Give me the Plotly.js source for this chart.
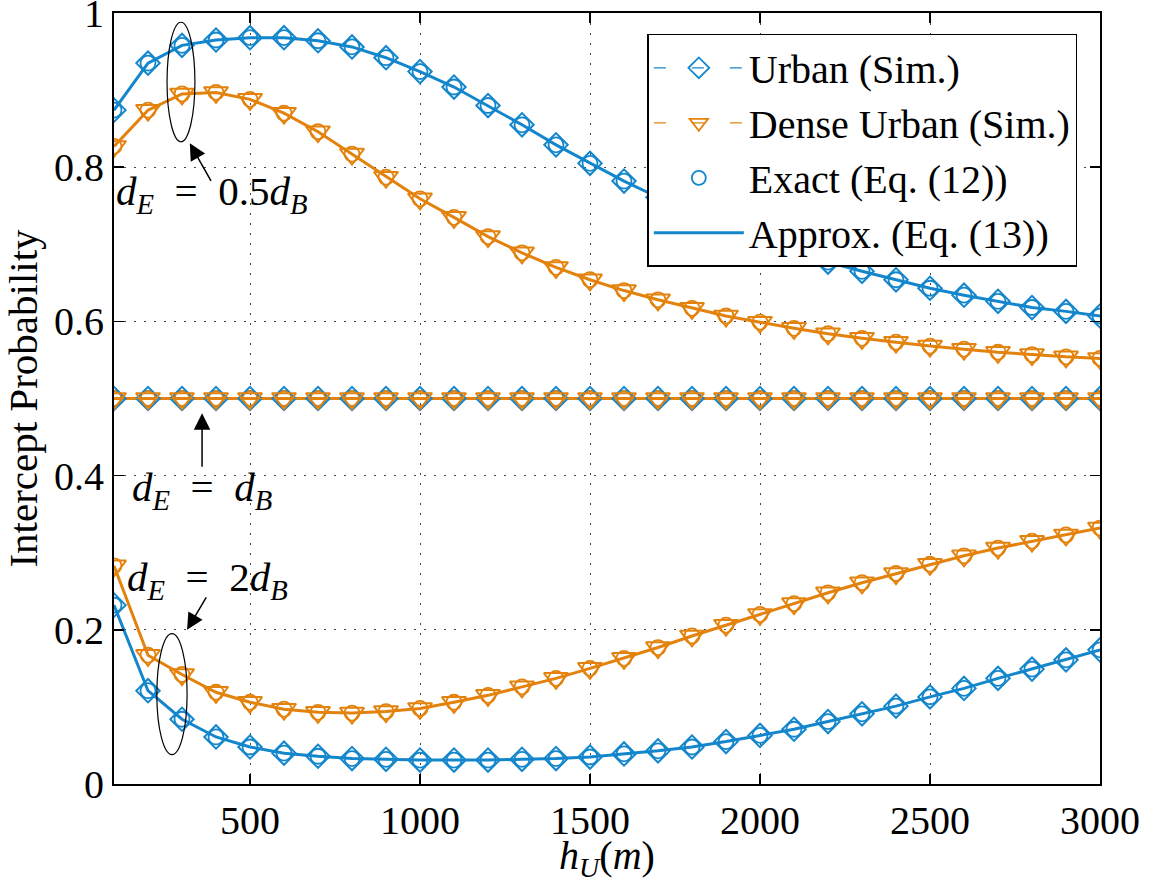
<!DOCTYPE html>
<html>
<head>
<meta charset="utf-8">
<script src="https://cdn.plot.ly/plotly-3.0.1.min.js"></script>
<style>html,body{margin:0;padding:0;background:#fff;}#chart{width:1157px;height:883px;}</style>
</head>
<body>
<div id="chart"></div>
<script>
// ---- data ----
const heights = [100,200,300,400,500,600,700,800,900,1000,1100,1200,1300,1400,1500,1600,1700,1800,1900,2000,2100,2200,2300,2400,2500,2600,2700,2800,2900,3000];

// d_E = 0.5 d_B
const urbanHalf = [0.874,0.935,0.958,0.965,0.968,0.968,0.964,0.956,0.942,0.924,0.904,0.880,0.855,0.829,0.805,0.782,0.761,0.741,0.723,0.706,0.692,0.677,0.665,0.654,0.643,0.634,0.626,0.618,0.613,0.607];
const denseHalf = [0.827,0.874,0.895,0.897,0.888,0.870,0.846,0.817,0.787,0.759,0.735,0.710,0.689,0.670,0.654,0.640,0.628,0.617,0.607,0.599,0.591,0.584,0.578,0.573,0.568,0.564,0.560,0.557,0.554,0.552];

// d_E = d_B
const urbanEqual = [0.5,0.5,0.5,0.5,0.5,0.5,0.5,0.5,0.5,0.5,0.5,0.5,0.5,0.5,0.5,0.5,0.5,0.5,0.5,0.5,0.5,0.5,0.5,0.5,0.5,0.5,0.5,0.5,0.5,0.5];
const denseEqual = [0.5,0.5,0.5,0.5,0.5,0.5,0.5,0.5,0.5,0.5,0.5,0.5,0.5,0.5,0.5,0.5,0.5,0.5,0.5,0.5,0.5,0.5,0.5,0.5,0.5,0.5,0.5,0.5,0.5,0.5];

// d_E = 2 d_B
const urbanDouble = [0.232,0.121,0.084,0.061,0.048,0.040,0.036,0.033,0.032,0.031,0.031,0.031,0.032,0.033,0.035,0.039,0.043,0.048,0.055,0.063,0.071,0.081,0.091,0.101,0.113,0.124,0.137,0.149,0.161,0.174];
const denseDouble = [0.283,0.167,0.142,0.119,0.106,0.097,0.093,0.092,0.094,0.098,0.106,0.115,0.126,0.137,0.150,0.163,0.177,0.192,0.206,0.220,0.234,0.248,0.261,0.273,0.285,0.296,0.306,0.315,0.323,0.332];

const xTicks = [500,1000,1500,2000,2500,3000];
const yTicks = [0,0.2,0.4,0.6,0.8,1];
const yTickText = ['0','0.2','0.4','0.6','0.8','1'];

const legendNames = ['Urban (Sim.)','Dense Urban (Sim.)','Exact (Eq. (12))','Approx. (Eq. (13))'];

// ---- styles ----
const BLUE = '#1486cc';
const ORANGE = '#e3820c';
const FONT = 'Liberation Serif, Times New Roman, serif';

const groups = [
  {y: urbanHalf,   c: BLUE,   sym: 'diamond-open',       sz: 18, sim: 0},
  {y: denseHalf,   c: ORANGE, sym: 'triangle-down-open', sz: 21, sim: 1},
  {y: urbanEqual,  c: BLUE,   sym: 'diamond-open',       sz: 18, sim: 0},
  {y: denseEqual,  c: ORANGE, sym: 'triangle-down-open', sz: 21, sim: 1},
  {y: urbanDouble, c: BLUE,   sym: 'diamond-open',       sz: 18, sim: 0},
  {y: denseDouble, c: ORANGE, sym: 'triangle-down-open', sz: 21, sim: 1}
];

const traces = [];
// approx lines
groups.forEach((g) => {
  traces.push({
    x: heights, y: g.y, type: 'scatter', mode: 'lines',
    line: {color: g.c, width: 3},
    name: legendNames[3], showlegend: false, hoverinfo: 'skip'
  });
});
// exact circles
groups.forEach((g) => {
  traces.push({
    x: heights, y: g.y, type: 'scatter', mode: 'markers',
    marker: {symbol: 'circle-open', size: 15, color: g.c, line: {width: 1.8, color: g.c}},
    name: legendNames[2], showlegend: false, hoverinfo: 'skip'
  });
});
// simulation markers with dashed line
groups.forEach((g) => {
  traces.push({
    x: heights, y: g.y, type: 'scatter', mode: 'lines+markers',
    line: {color: g.c, width: 1.2, dash: '8px,10px'},
    marker: {symbol: g.sym, size: g.sz, color: g.c, line: {width: 2, color: g.c}},
    name: legendNames[g.sim], showlegend: false, hoverinfo: 'skip'
  });
});
// legend-only traces (in legend order)
traces.push({x:[null], y:[null], type:'scatter', mode:'lines+markers', name: legendNames[0],
  line:{color:BLUE, width:1.2, dash:'12px,26px'}, marker:{symbol:'diamond-open', size:16, color:BLUE, line:{width:1.8,color:BLUE}}});
traces.push({x:[null], y:[null], type:'scatter', mode:'lines+markers', name: legendNames[1],
  line:{color:ORANGE, width:1.2, dash:'12px,26px'}, marker:{symbol:'triangle-down-open', size:16, color:ORANGE, line:{width:1.8,color:ORANGE}}});
traces.push({x:[null], y:[null], type:'scatter', mode:'markers', name: legendNames[2],
  marker:{symbol:'circle-open', size:14, color:BLUE, line:{width:1.8,color:BLUE}}});
traces.push({x:[null], y:[null], type:'scatter', mode:'lines', name: legendNames[3],
  line:{color:BLUE, width:3}});

const dE = (mid) => '<i>d</i><sub><i>E</i></sub>&nbsp; = &nbsp;' + mid + '<i>d</i><sub><i>B</i></sub>';

const layout = {
  width: 1157, height: 883,
  margin: {l: 114, r: 57, t: 13, b: 99, pad: 0},
  paper_bgcolor: '#fff', plot_bgcolor: '#fff',
  font: {family: FONT, size: 40, color: '#000'},
  showlegend: true,
  legend: {
    x: 0.977, y: 0.973, xanchor: 'right', yanchor: 'top',
    bgcolor: '#fff', bordercolor: '#000', borderwidth: 1.5,
    font: {family: FONT, size: 40, color: '#000'},
    itemwidth: 90, tracegroupgap: 0
  },
  xaxis: {
    range: [100, 3000], tickmode: 'array', tickvals: xTicks,
    ticks: 'inside', ticklen: 10, tickwidth: 1.5, tickcolor: '#000',
    showline: true, linecolor: '#000', linewidth: 2, mirror: 'ticks',
    showgrid: true, gridcolor: '#444', gridwidth: 1, griddash: '2px,8px',
    zeroline: false, ticklabeloverflow: 'allow',
    tickfont: {family: FONT, size: 40, color: '#000'},
    title: {text: '<i>h</i><sub><i>U</i></sub>(<i>m</i>)', font: {family: FONT, size: 40, color: '#000'}, standoff: 13},
    automargin: false
  },
  yaxis: {
    range: [0, 1], tickmode: 'array', tickvals: yTicks, ticktext: yTickText,
    ticks: 'inside', ticklen: 10, tickwidth: 1.5, tickcolor: '#000',
    showline: true, linecolor: '#000', linewidth: 2, mirror: 'ticks',
    showgrid: true, gridcolor: '#444', gridwidth: 1, griddash: '2px,8px',
    zeroline: false, ticklabeloverflow: 'allow',
    tickfont: {family: FONT, size: 40, color: '#000'},
    title: {text: 'Intercept Probability', font: {family: FONT, size: 41, color: '#000'}, standoff: 4},
    automargin: false
  },
  shapes: [
    {type: 'circle', xref: 'x', yref: 'y', x0: 256, x1: 338, y0: 0.833, y1: 0.988, line: {color: '#000', width: 1.2}},
    {type: 'circle', xref: 'x', yref: 'y', x0: 226, x1: 315, y0: 0.038, y1: 0.195, line: {color: '#000', width: 1.2}}
  ],
  annotations: [
    {x: 323, y: 0.831, xref: 'x', yref: 'y', text: '', showarrow: true, ax: 22, ay: 39, axref: 'pixel', ayref: 'pixel',
      arrowhead: 2, arrowsize: 2.2, arrowwidth: 1.5, arrowcolor: '#000'},
    {x: 359, y: 0.481, xref: 'x', yref: 'y', text: '', showarrow: true, ax: 0, ay: 55, axref: 'pixel', ayref: 'pixel',
      arrowhead: 2, arrowsize: 2.2, arrowwidth: 1.5, arrowcolor: '#000'},
    {x: 315, y: 0.2, xref: 'x', yref: 'y', text: '', showarrow: true, ax: 20, ay: -34, axref: 'pixel', ayref: 'pixel',
      arrowhead: 2, arrowsize: 2.2, arrowwidth: 1.5, arrowcolor: '#000'},
    {x: 0, y: 0.765, xref: 'paper', yref: 'y', xanchor: 'left', yanchor: 'middle', showarrow: false,
      text: dE('0.5'), font: {family: FONT, size: 41, color: '#000'}},
    {x: 0.016, y: 0.381, xref: 'paper', yref: 'y', xanchor: 'left', yanchor: 'middle', showarrow: false,
      text: dE(''), font: {family: FONT, size: 41, color: '#000'}},
    {x: 0.011, y: 0.265, xref: 'paper', yref: 'y', xanchor: 'left', yanchor: 'middle', showarrow: false,
      text: dE('2'), font: {family: FONT, size: 41, color: '#000'}}
  ]
};

Plotly.newPlot('chart', traces, layout, {displayModeBar: false, staticPlot: true});
</script>
</body>
</html>
